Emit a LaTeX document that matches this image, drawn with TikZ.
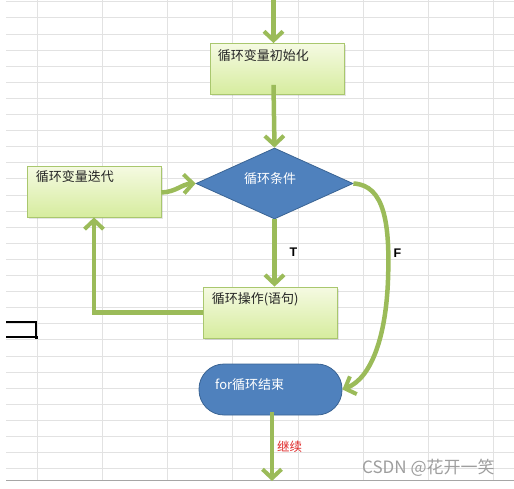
\documentclass[tikz,border=0pt]{standalone}
\usepackage{fontspec}
\setmainfont{Liberation Sans}
\newfontfamily\cjk{Noto Sans CJK SC}
\usetikzlibrary{arrows.meta,shapes.geometric,calc,shadows}
\definecolor{arrowgreen}{HTML}{9BBB59}
\definecolor{boxtop}{HTML}{F5FAE2}
\definecolor{boxbot}{HTML}{D6EC9E}
\definecolor{boxline}{HTML}{A9C76E}
\definecolor{flowblue}{HTML}{4F81BD}
\definecolor{flowblueline}{HTML}{3A6494}
\definecolor{gridgray}{HTML}{E2E2E2}
\definecolor{labelred}{HTML}{E02828}
\tikzset{
  greenbox/.style={draw=boxline, line width=0.8pt, top color=boxtop, bottom color=boxbot,
    minimum width=134pt, minimum height=51pt, inner sep=0pt,
    drop shadow={opacity=0.2, shadow xshift=1.5pt, shadow yshift=-1.5pt}},
  boxtext/.style={font=\cjk\fontsize{13pt}{15pt}\selectfont, text=black!85, anchor=west, inner sep=0pt},
  whitetext/.style={font=\cjk\fontsize{13pt}{15pt}\selectfont, text=white, inner sep=0pt},
  flow/.style={draw=arrowgreen, line width=4.5pt,
    -{Straight Barb[length=9pt,width=19pt,line width=4pt]}},
  tflabel/.style={font=\bfseries\fontsize{12.5pt}{14pt}\selectfont, text=black, inner sep=0pt},
}
\begin{document}
\begin{tikzpicture}[x=1pt,y=-1pt]
\useasboundingbox (0,0) rectangle (514,488);
\fill[white] (0,0) rectangle (514,488);
% grid
\foreach \k in {0,...,29} {
  \draw[gridgray, line width=0.8pt] (6,{1.7+16.1*\k}) -- (514,{1.7+16.1*\k});
}
\foreach \x in {37,102,167,232,298,363,428,493} {
  \draw[gridgray, line width=0.8pt] (\x,0) -- (\x,480);
}
\draw[black!35, line width=1pt] (6,480.5) -- (514,480.5);
% black bracket
\draw[black, line width=2pt] (6,322) -- (36,322) -- (36,337);
\draw[black, line width=2pt] (6,337) -- (36,337);
\fill[black] (34.5,335.5) rectangle (38,339);

% nodes
\node[greenbox] (init) at (277,69) {};
\node[boxtext] (initT) at ($(init.north west)+(8,12)$) {循环变量初始化};

\node[diamond, draw=flowblueline, line width=0.8pt, fill=flowblue,
      minimum width=157pt, minimum height=71pt, inner sep=0pt] (dia) at (274.5,183.5) {};
\node[whitetext] (diaT) at (270,178.5) {循环条件};

\node[greenbox] (iter) at (94,191.5) {};
\node[boxtext] (iterT) at ($(iter.north west)+(9,11)$) {循环变量迭代};

\node[greenbox] (op) at (270,312.5) {};
\node[boxtext] (opT) at ($(op.north west)+(9,13)$) {循环操作(语句)};

\node[draw=flowblueline, line width=0.8pt, fill=flowblue, rounded corners=25pt,
      minimum width=143pt, minimum height=51pt, inner sep=0pt] (end) at (270.5,389.5) {};
\node[whitetext, anchor=west] (endT) at (215,385) {for循环结束};

% connector coordinates
\coordinate (top) at (273.5,0);
\coordinate (bottom) at (272,481);

% connectors
\draw[flow] (top) -- (top |- init.north);
\draw[flow] ([yshift=10pt]init.south -| top) -- (dia.north);
\draw[flow] (dia.south) -- (dia.south |- op.north);
\draw[flow] (op.west) -| (iter.south);
\draw[flow] ([yshift=-1pt]iter.east) .. controls (176,192) and (182,184) .. (dia.west);
\draw[flow] (dia.east) .. controls (385,185) and (390,225) .. (388,280)
   .. controls (386,335) and (372,378) .. (end.east);
\draw[flow] ([yshift=3pt]end.south -| bottom) -- (bottom);

% labels
\node[tflabel] (T) at (293.5,252.5) {T};
\node[tflabel] (F) at (397.5,253) {F};
\node[font=\cjk\fontsize{12.5pt}{14pt}\selectfont, text=labelred, inner sep=0pt] (cont) at (289.5,447) {继续};
\node[font=\cjk\fontsize{17pt}{19pt}\selectfont, text=black!38, anchor=west, inner sep=0pt] (wm) at (362,468) {CSDN @花开一笑};
\end{tikzpicture}
\end{document}
